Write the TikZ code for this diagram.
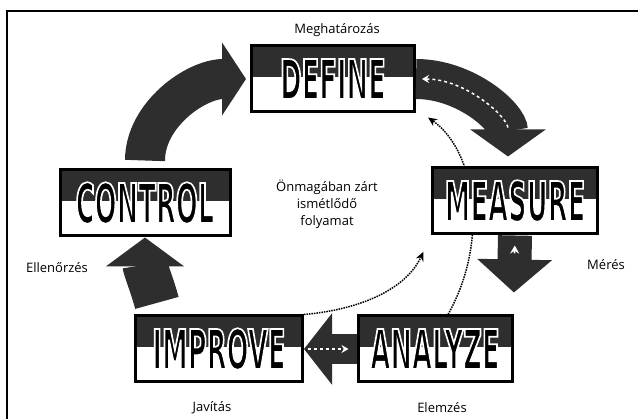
\documentclass[tikz,border=0pt]{standalone}
\usepackage{fontspec}
\usepackage{tikz}
\usetikzlibrary{arrows.meta}
\usetikzlibrary{backgrounds}
\usetikzlibrary{calc}

\newfontfamily\labelfont{Open Sans}
\newfontfamily\phasefont[FakeStretch=0.47, FakeBold=3]{DejaVu Sans}
\newcommand\whiteedge{\special{pdf:code 1 1 1 RG}}

\tikzset{
  phase/.style={rectangle, draw, line width=3pt, fill=white, inner sep=0pt, minimum height=66pt,
    font=\phasefont\bfseries\fontsize{55}{55}\selectfont\whiteedge,
    path picture={\fill[black!82] (path picture bounding box.north west) rectangle ([yshift=-31pt]path picture bounding box.north east);}},
  phaselabel/.style={font=\labelfont\fontsize{13}{17}\selectfont},
  bigarrow/.style={line width=40pt, black!82},
  backmark/.style={white, dashed, line width=1.5pt},
  loopline/.style={densely dotted, line width=1.5pt, -{Stealth[length=9pt,width=8pt]}}
}

\begin{document}
\begin{tikzpicture}[x=1pt, y=1pt]
              \useasboundingbox (0,0) rectangle (638,-419);
              \draw[line width=1.4pt] (7,-419) -- (7,-11) -- (638,-11);

              % Nodos
              \node[phase, minimum width=163pt] (define) at (333,-79) {DEFINE};
              \node[phase, minimum width=165pt] (measure) at (515,-201) {MEASURE};
              \node[phase, minimum width=170pt] (control) at (145,-203) {CONTROL};
              \node[phase, minimum width=167pt] (improve) at (219,-349) {IMPROVE};
              \node[phase, minimum width=154pt] (analyze) at (435,-349) {ANALYZE};

              \node[phaselabel] (meghat) at (337,-30) {Meghatározás};
              \node[phaselabel] (meres) at (606,-265) {Mérés};
              \node[phaselabel] (ellen) at (57,-268) {Ellenőrzés};
              \node[phaselabel] (javitas) at (212,-408) {Javítás};
              \node[phaselabel] (elemzes) at (442,-408) {Elemzés};
              \node[phaselabel, align=center] (loop) at (327,-204) {Önmagában zárt\\ismétlődő\\folyamat};

              % Flechas
              \draw[bigarrow, -{Triangle[length=24pt,width=72pt]}, shorten <=8pt, shorten >=4pt] (control.north) to[out=90,in=180] (define.west);
              \draw[bigarrow, -{Triangle[length=27pt,width=74pt]}, shorten >=10pt] (define.east) to[out=0,in=90] ([xshift=-7pt]measure.north);
              \draw[bigarrow, line width=34pt, -{Triangle[length=33pt,width=73pt]}, shorten >=22pt] (measure.south) -- (analyze.north east);
              \draw[bigarrow, line width=30pt, -{Triangle[length=28pt,width=70pt]}] (analyze.west) -- (improve.east);
              \draw[bigarrow, line width=45pt, -{Triangle[length=29pt,width=77pt]}, shorten <=12pt] ($(improve.north west)+(26,0)$) to[out=105,in=-90] (control.south);

              \draw[backmark, {Stealth[length=7pt,width=8pt]}-, shorten <=6pt, shorten >=38pt] (define.east) to[out=0,in=90] ([xshift=-7pt]measure.north);
              \draw[backmark, {Stealth[length=8pt,width=9pt]}-, shorten <=10pt, shorten >=60pt] (measure.south) -- (analyze.north east);
              \draw[backmark, -{Stealth[length=7pt,width=8pt]}, shorten <=4pt, shorten >=8pt] (improve.east) -- (analyze.west);

              \begin{scope}[on background layer]
              \draw[loopline] ([xshift=13pt]analyze.north) .. controls (490,-240) and (475,-150) .. ([shift={(12,-4)}]define.south east);
              \draw[loopline, shorten >=18pt] (improve.north east) to[out=5,in=-115] (measure.south west);
              \end{scope}
            \end{tikzpicture}
\end{document}
